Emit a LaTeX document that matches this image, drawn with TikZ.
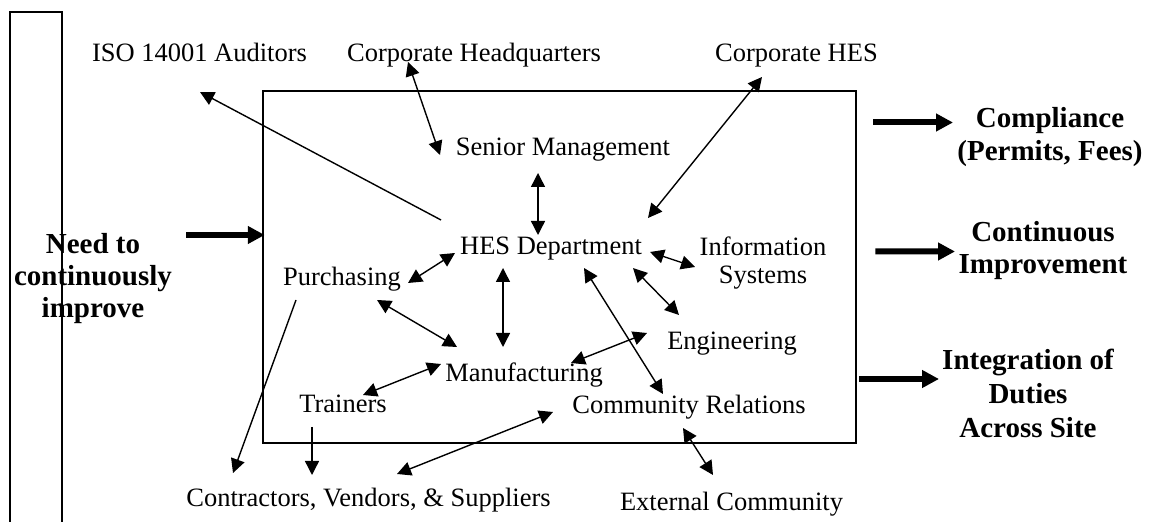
\documentclass[tikz,border=0pt]{standalone}
\usepackage{fontspec}
\setmainfont{Liberation Serif}
\usetikzlibrary{arrows.meta,calc}

\begin{document}
\begin{tikzpicture}[x=0.5pt,y=0.5pt,yscale=-1,xscale=1,
	lbl/.style={inner sep=0pt, anchor=base, font=\fontsize{13.25}{14}\selectfont},
	blbl/.style={inner sep=0pt, align=center, font=\fontsize{14.5}{16}\selectfont\bfseries},
	twoway/.style={line width=0.7pt, {Triangle[length=7pt,width=7pt]}-{Triangle[length=7pt,width=7pt]}},
	oneway/.style={line width=0.7pt, -{Triangle[length=7pt,width=7pt]}},
	fat/.style={line width=3pt, -{Triangle[length=8.5pt,width=8.5pt]}}]
	\useasboundingbox (0,0) rectangle (1149,522);

	% left bar, open at the bottom
	\draw [line width=1pt] (10,522) -- (10,12) -- (62,12) -- (62,522);
	% the site
	\node [draw, line width=1.25pt, minimum width=296.5pt, minimum height=176pt, inner sep=0pt] (site) at (559.5,267) {};

	% parties
	\node [lbl] (iso) at (199.5,62) {ISO 14001 Auditors};
	\node [lbl] (hq) at (474,62) {Corporate Headquarters};
	\node [lbl] (chs) at (796.4,62) {Corporate HES};
	\node [lbl] (sm) at (563,156) {Senior Management};
	\node [lbl] (hes) at (551,255) {HES Department};
	\node [lbl, anchor=center, align=center] (info) at (763,263) {Information\\Systems};
	\node [lbl] (purch) at (342,286) {Purchasing};
	\node [lbl] (eng) at (732,350) {Engineering};
	\node [lbl] (mfg) at (524,382) {Manufacturing};
	\node [lbl] (trn) at (343,413) {Trainers};
	\node [lbl] (cr) at (689,414) {Community Relations};
	\node [lbl] (cvs) at (368.5,507) {Contractors, Vendors, \& Suppliers};
	\node [lbl] (ext) at (731.5,510) {External Community};

	% drivers and results
	\node [blbl] (need) at (93,278.2) {Need to\\continuously\\improve};
	\node [blbl, font=\fontsize{14.5}{16.5}\selectfont\bfseries] (comp) at (1050,137.3) {Compliance\\(Permits, Fees)};
	\node [blbl] (cont) at (1043,250.8) {Continuous\\Improvement};
	\node [blbl, font=\fontsize{14.5}{17}\selectfont\bfseries] (integ) at (1028,393.1) {Integration of\\Duties\\Across Site};

	% links
	\draw [oneway] ($(hes.base)+(-110,-35)$) -- ($(iso.base)+(0.5,30)$);
	\draw [twoway] ($(hq.base)+(-66,0)$) -- ($(sm.base)+(-123,-1)$);
	\draw [twoway] ($(chs.base)+(-34.4,15)$) -- ($(hes.base)+(97,-37)$);
	\draw [twoway] ($(sm.base)+(-25,17)$) -- ($(hes.base)+(-13,-20)$);
	\draw [twoway] ($(hes.base)+(-96,-2)$) -- ($(purch.base)+(66,-3)$);
	\draw [twoway] ($(hes.base)+(-48,13)$) -- ($(mfg.base)+(-21,-35)$);
	\draw [twoway] ($(purch.base)+(35,14)$) -- ($(mfg.base)+(-67,-35)$);
	\draw [twoway] ($(mfg.base)+(-83,-18)$) -- ($(trn.base)+(20,-18)$);
	\draw [oneway] ($(purch.base)+(-46,14)$) -- ($(cvs.base)+(-135.5,-34)$);
	\draw [oneway] ($(trn.base)+(-31,14)$) -- ($(cvs.base)+(-56.5,-32)$);
	\draw [twoway] ($(cr.base)+(-136,-2)$) -- ($(cvs.base)+(28.5,-33)$);
	\draw [twoway] ($(mfg.base)+(47,-19)$) -- ($(eng.base)+(-85,-17)$);
	\draw [twoway] ($(hes.base)+(33,13)$) -- ($(cr.base)+(-26,-20)$);
	\draw [twoway] ($(hes.base)+(82,13)$) -- ($(eng.base)+(-53,-35)$);
	\draw [twoway] ($(hes.base)+(99,-3)$) -- ($(info.center)+(-68,4)$);
	\draw [twoway] ($(cr.base)+(-6,14)$) -- ($(ext.base)+(-18.5,-35)$);

	% big arrows in and out
	\draw [fat] ($(need.center)+(93,-43.2)$) -- ($(site.west)+(3,-32)$);
	\draw [fat] ($(site.east)+(16,-144.5)$) -- ($(comp.center)+(-97,-14.8)$);
	\draw [fat] ($(site.east)+(18,-15.5)$) -- ($(cont.center)+(-88,0.7)$);
	\draw [fat] ($(site.east)+(2,112)$) -- ($(integ.center)+(-89,-14.1)$);
\end{tikzpicture}
\end{document}
